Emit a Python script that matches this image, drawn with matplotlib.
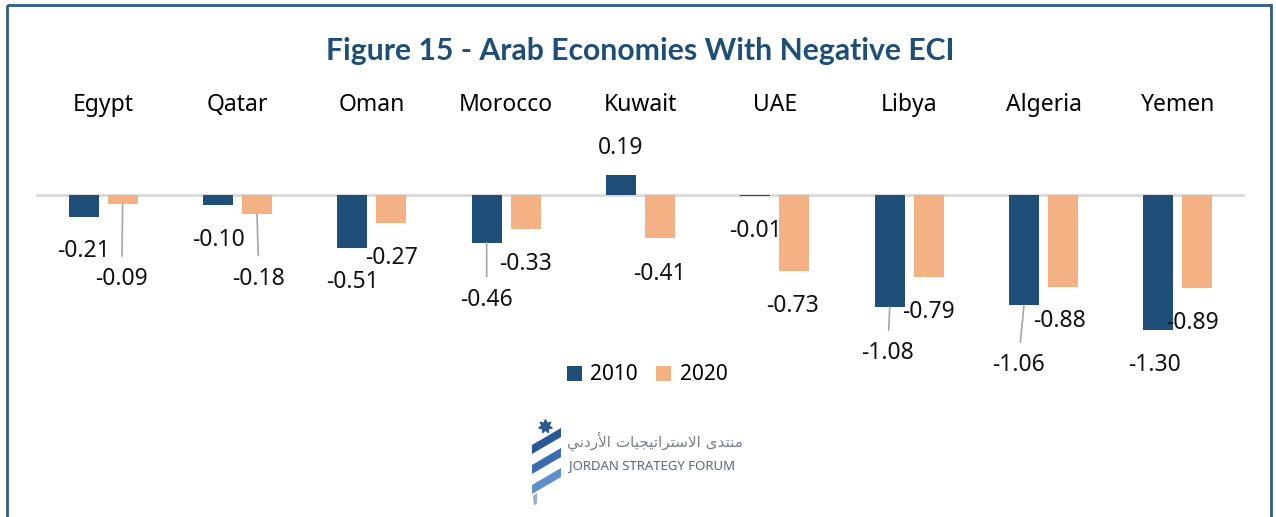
import matplotlib.pyplot as plt
import numpy as np
from matplotlib.patches import Polygon, Rectangle

# chart data
countries = ['Egypt', 'Qatar', 'Oman', 'Morocco', 'Kuwait', 'UAE', 'Libya', 'Algeria', 'Yemen']
eci_2010 = [-0.21, -0.10, -0.51, -0.46, 0.19, -0.01, -1.08, -1.06, -1.30]
eci_2020 = [-0.09, -0.18, -0.27, -0.33, -0.41, -0.73, -0.79, -0.88, -0.89]
years = ['2010', '2020']

# data label placement (offset in pixels from the bar end) and which get a leader line
off_2010 = [(0, -31), (0, -32), (0, -31), (0, -54), (0, 30), (0, -32), (-2, -43), (-6, -57), (-4, -32)]
off_2020 = [(-1, -72), (2, -62), (0, -32), (0, -32), (0, -33), (-2, -32), (0, -32), (-3, -31), (-5, -32)]
lead_2010 = {3, 6, 7}
lead_2020 = {0, 1}

c2010 = '#1f4e79'
c2020 = '#f4b183'
title_col = '#1f4e79'
font = 'Noto Sans'

W, H = 1276, 517
fig = plt.figure(figsize=(W / 100, H / 100), dpi=100)

# overlay in pixel coordinates for the frame and the logo
deco = fig.add_axes([0, 0, 1, 1])
deco.set_xlim(0, W)
deco.set_ylim(H, 0)
deco.axis('off')
deco.add_patch(Rectangle((7, 5), 1264, 530, fill=False, edgecolor='#2e5c8a', lw=2, clip_on=False))

# logo: star + three ribbons
deco.plot([545], [426], marker=(7, 1, 0), ms=10, color='#2b5797')
for i, col in enumerate(['#2b5797', '#3a6cb0', '#5f8fc8']):
    y0 = 445 + i * 20
    deco.add_patch(Polygon([(532, y0), (561, y0 - 17), (561, y0 - 8), (532, y0 + 9)],
                           closed=True, color=col, lw=0))
deco.add_patch(Polygon([(533, 496), (537, 493), (537, 503), (534, 506)], closed=True, color='#8fb0d8', lw=0))

# Arabic name, pre-shaped presentation forms in visual order
arabic = '\uFEE3\uFEE8\uFE98\uFEAA\uFEEF \uFE8D\uFEFB\uFEB3\uFE98\uFEAE\uFE8D\uFE97\uFEF4\uFEA0\uFEF4\uFE8E\uFE95 \uFE8D\uFEF7\uFEAD\uFEA9\uFEE7\uFEF2'
deco.text(655, 441, arabic[::-1], ha='center', va='center', fontsize=11,
          family='DejaVu Sans', color='#7a7f88')
deco.text(569, 466, 'JORDAN STRATEGY FORUM', ha='left', va='center', fontsize=9.5,
          family=font, color='#5b6679')

# title
fig.text(640 / W, 1 - 51 / H, 'Figure 15 - Arab Economies With Negative ECI', ha='center', va='center',
         fontsize=21.7, fontweight='bold', family='Lato', color=title_col)

# main chart
ax = fig.add_axes([36 / W, 1 - 345 / H, 1209 / W, 225 / H])
ax.patch.set_alpha(0)
x = np.arange(len(countries))
bw = 0.223
sh = 0.145
b1 = ax.bar(x - sh, eci_2010, bw, color=c2010, label=years[0], zorder=2)
b2 = ax.bar(x + sh, eci_2020, bw, color=c2020, label=years[1], zorder=2)
ax.axhline(0, color='#d9d9d9', lw=2, zorder=1)
ax.set_xlim(-0.5, len(countries) - 0.5)
ax.set_ylim(-1.442, 0.721)

for s in ax.spines.values():
    s.set_visible(False)
ax.set_yticks([])
ax.xaxis.tick_top()
ax.set_xticks(x)
ax.set_xticklabels(countries, fontsize=16.5, family=font)
ax.tick_params(axis='x', length=0, pad=2)

def add_labels(xs, vals, offs, leads):
    for i, (xi, v) in enumerate(zip(xs, vals)):
        dx, dy = offs[i]
        kw = {}
        if i in leads:
            kw['arrowprops'] = dict(arrowstyle='-', color='#a6a6a6', lw=1.2, shrinkA=6, shrinkB=0)
        ax.annotate(f'{v:.2f}', (xi, v), xytext=(dx, dy - 3), textcoords='offset pixels',
                    ha='center', va='center', fontsize=16.5, family=font, color='#111111', **kw)

add_labels(x - sh, eci_2010, off_2010, lead_2010)
add_labels(x + sh, eci_2020, off_2020, lead_2020)

fig.legend(handles=[b1, b2], labels=years, loc='center', bbox_to_anchor=(647 / W, 1 - 375 / H),
           ncol=2, frameon=False, prop={'family': font, 'size': 15},
           handlelength=0.72, handleheight=0.72, handletextpad=0.4, columnspacing=0.9)

fig.savefig('out.png', dpi=100)
